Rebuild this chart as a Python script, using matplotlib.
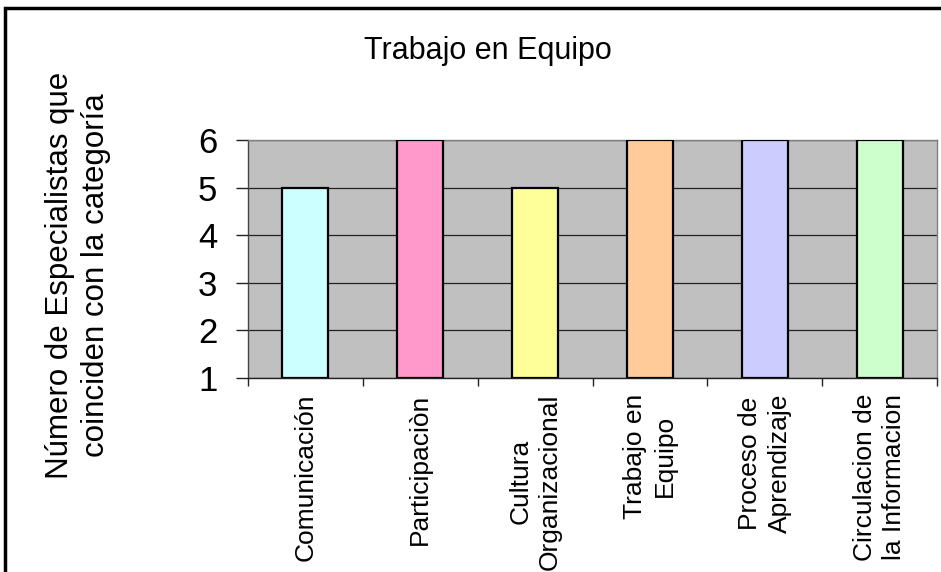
import matplotlib
matplotlib.use("Agg")
import matplotlib.pyplot as plt
from matplotlib.patches import Rectangle
from matplotlib.ticker import FixedLocator

plt.rcParams['font.family'] = ['Liberation Sans', 'DejaVu Sans']

categories = ["Comunicación", "Participaciòn", "Cultura\nOrganizacional",
              "Trabajo en\nEquipo", "Proceso de\nAprendizaje",
              "Circulacion de\nla Informacion"]
values = [5, 6, 5, 6, 6, 6]
colors = ["#CCFFFF", "#FF99CC", "#FFFF99", "#FFCC99", "#CCCCFF", "#CCFFCC"]
yticks = [1, 2, 3, 4, 5, 6]
title = "Trabajo en Equipo"
ylabel = "Número de Especialistas que\ncoinciden con la categoría"

W, H = 941, 572
fig = plt.figure(figsize=(W / 100, H / 100), dpi=100)
fig.patch.set_facecolor("white")

# outer chart border (left and top visible; right/bottom cut off)
fig.patches.append(Rectangle((5 / W, -0.1), 1.2, (H - 8) / H + 0.1,
                             transform=fig.transFigure, fill=False,
                             edgecolor="black", linewidth=2.5, zorder=0))

ax = fig.add_axes([248 / W, 1 - 378 / H, 689 / W, 238 / H])
ax.set_facecolor("#C0C0C0")

x = [i + 0.5 for i in range(len(categories))]
base = yticks[0]
ax.bar(x, [v - base for v in values], bottom=base, width=0.4, color=colors,
       edgecolor="black", linewidth=1.6, zorder=3)

ax.set_xlim(0, len(categories))
ax.set_ylim(yticks[0], yticks[-1])
ax.set_yticks(yticks)
ax.set_yticklabels([str(t) for t in yticks], fontsize=25)
ax.yaxis.grid(True, color="#222222", linewidth=0.9, zorder=1)
ax.xaxis.grid(False)

ax.set_xticks(x)
ax.set_xticklabels(categories, rotation=90, fontsize=19, va="top",
                   ha="center", multialignment="center", linespacing=1.3)
ax.xaxis.set_minor_locator(FixedLocator(list(range(len(categories) + 1))))
ax.tick_params(axis="x", which="major", length=0, pad=11)
ax.tick_params(axis="x", which="minor", length=6, width=1, color="#222222",
               direction="out")
ax.tick_params(axis="y", which="major", length=9, width=1, color="#222222",
               direction="out", pad=13)

for side in ["left", "right", "top"]:
    ax.spines[side].set_color("#808080")
    ax.spines[side].set_linewidth(1)
ax.spines["left"].set_color("#444444")
ax.spines["bottom"].set_color("#222222")
ax.spines["bottom"].set_linewidth(1)

fig.text(488 / W, 1 - 51 / H, title, fontsize=22, ha="center", va="center")
fig.text(78 / W, 1 - 275 / H, ylabel, fontsize=22.5, rotation=90,
         ha="center", va="center", multialignment="center", linespacing=1.3)

fig.savefig("out.png", dpi=100)
